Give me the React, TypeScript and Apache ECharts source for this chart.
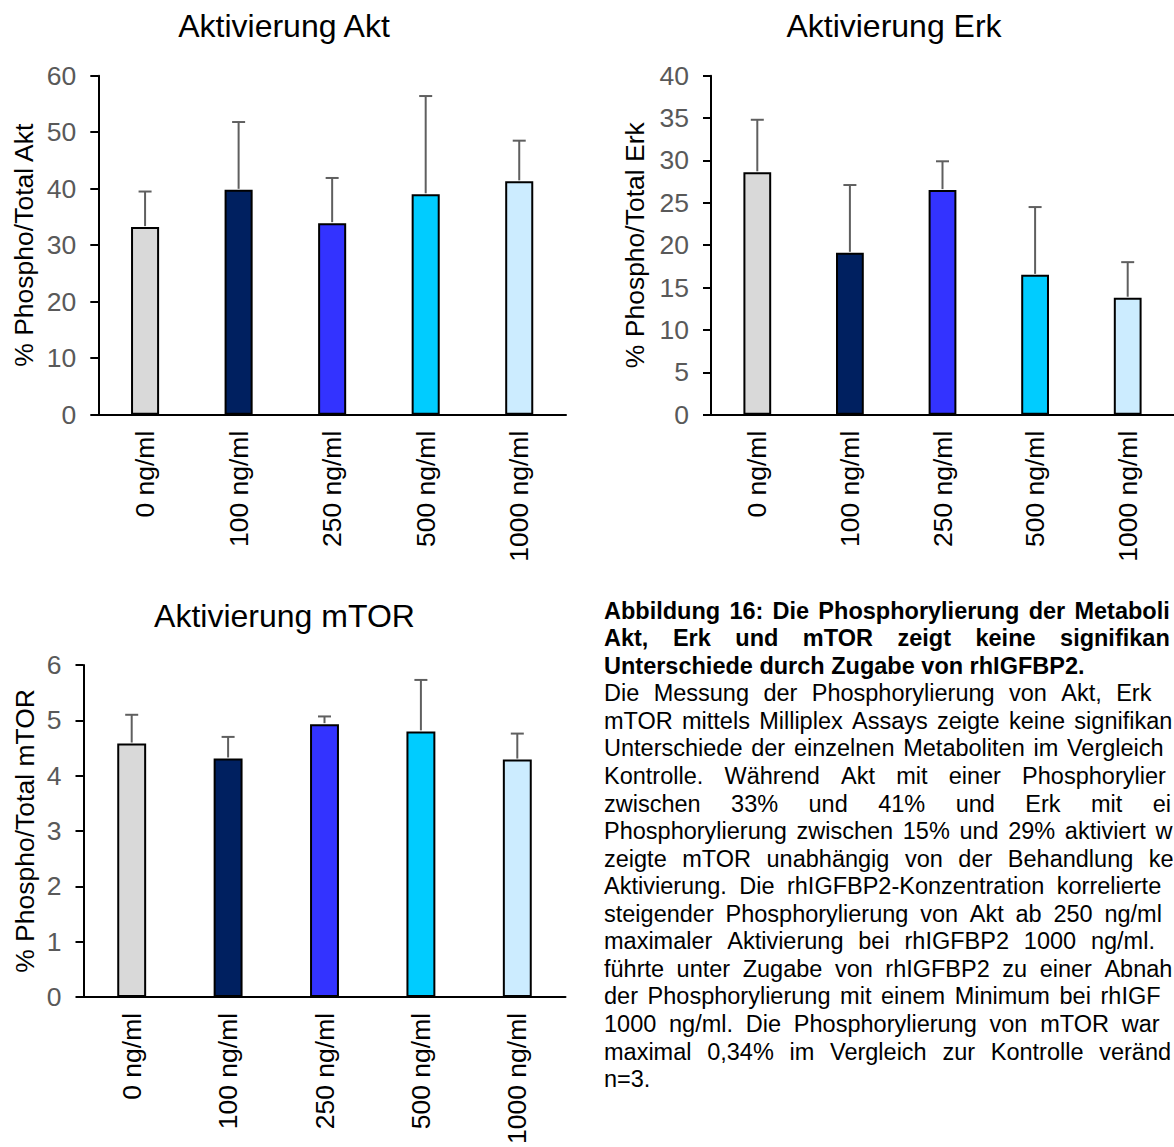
import React, { useEffect, useRef } from 'react';
import * as echarts from 'echarts';

const categories = ['0 ng/ml', '100 ng/ml', '250 ng/ml', '500 ng/ml', '1000 ng/ml'];
const barColors = ['#D9D9D9', '#002060', '#3333FF', '#00CCFF', '#CCECFF'];

const aktMean = [33.2, 39.8, 33.9, 39.0, 41.3];
const aktSd = [6.3, 12.0, 8.0, 17.4, 7.2];
const erkMean = [28.6, 19.1, 26.5, 16.5, 13.8];
const erkSd = [6.2, 8.0, 3.4, 8.0, 4.2];
const mtorMean = [4.58, 4.31, 4.93, 4.8, 4.29];
const mtorSd = [0.52, 0.39, 0.14, 0.93, 0.47];

const titles = ['Aktivierung Akt', 'Aktivierung Erk', 'Aktivierung mTOR'];
const yNames = ['% Phospho/Total Akt', '% Phospho/Total Erk', '% Phospho/Total mTOR'];
const yMax = [60, 40, 6];
const yStep = [10, 5, 1];

// Caption lines as set in the (wider) document column; the page cuts them at its right edge,
// so only the characters that fit inside the page are drawn.
const captionLines = [
  'Abbildung 16: Die Phosphorylierung der Metaboliten',
  'Akt, Erk und mTOR zeigt keine signifikanten',
  'Unterschiede durch Zugabe von rhIGFBP2.',
  'Die Messung der Phosphorylierung von Akt, Erk und',
  'mTOR mittels Milliplex Assays zeigte keine signifikanten',
  'Unterschiede der einzelnen Metaboliten im Vergleich zur',
  'Kontrolle. Während Akt mit einer Phosphorylierung',
  'zwischen 33% und 41% und Erk mit einer',
  'Phosphorylierung zwischen 15% und 29% aktiviert wird,',
  'zeigte mTOR unabhängig von der Behandlung keine',
  'Aktivierung. Die rhIGFBP2-Konzentration korrelierte mit',
  'steigender Phosphorylierung von Akt ab 250 ng/ml mit',
  'maximaler Aktivierung bei rhIGFBP2 1000 ng/ml. Erk',
  'führte unter Zugabe von rhIGFBP2 zu einer Abnahme',
  'der Phosphorylierung mit einem Minimum bei rhIGFBP2',
  '1000 ng/ml. Die Phosphorylierung von mTOR war um',
  'maximal 0,34% im Vergleich zur Kontrolle verändert.',
  'n=3.',
];
const captionBoldLines = 3;
const captionParagraphEnds = [2, 17];

const FONT = '"Liberation Sans", Arial, Helvetica, sans-serif';

export default function App() {
  const ref = useRef<HTMLDivElement>(null);

  useEffect(() => {
    if (!ref.current) return;
    const chart = echarts.init(ref.current, null, { renderer: 'svg' });

    const canvas = document.createElement('canvas');
    const ctx = canvas.getContext('2d')!;
    const measure = (t: string, font: string) => {
      ctx.font = font;
      return ctx.measureText(t).width;
    };

    const pageRight = 1174;
    const paraSize = 23.5;
    const paraX0 = 604;
    const paraX1 = 1205;
    const paraY0 = 610.7;
    const paraLH = 27.55;
    const graphics: any[] = [];

    const textEl = (text: string, x: number, y: number, font: string, align = 'left') => ({
      type: 'text',
      x,
      y,
      style: {
        text, font, fill: '#000',
        align, verticalAlign: 'middle',
        textAlign: align, textVerticalAlign: 'middle',
      },
    });

    captionLines.forEach((line, i) => {
      const bold = i < captionBoldLines;
      const font = `${bold ? 'bold ' : ''}${paraSize}px ${FONT}`;
      const y = paraY0 + i * paraLH;
      const words = line.split(' ');
      const widths = words.map((w) => measure(w, font));
      const total = widths.reduce((a, b) => a + b, 0);
      const justify = !captionParagraphEnds.includes(i) && words.length > 1;
      const gap = justify
        ? (paraX1 - paraX0 - total) / (words.length - 1)
        : measure(' ', font);
      let x = paraX0;
      words.forEach((w, k) => {
        if (x < pageRight) {
          // keep only the characters that fit entirely inside the page
          let visible = '';
          for (let c = 1; c <= w.length; c++) {
            if (x + measure(w.slice(0, c), font) <= pageRight + 0.5) visible = w.slice(0, c);
            else break;
          }
          if (visible) graphics.push(textEl(visible, x, y, font));
        }
        x += widths[k] + gap;
      });
    });

    const titlePos = [
      [284, 26],
      [894, 26],
      [284.5, 616],
    ];
    titles.forEach((t, i) => {
      graphics.push(textEl(t, titlePos[i][0], titlePos[i][1], `32px ${FONT}`, 'center'));
    });

    const grids = [
      { left: 98.3, top: 75.7, width: 467.7, height: 339 },
      { left: 711, top: 75.7, width: 468, height: 339 },
      { left: 83.5, top: 665, width: 482, height: 337 },
    ];
    const nameGaps = [61, 62.5, 44.6];
    const means = [aktMean, erkMean, mtorMean];
    const sds = [aktSd, erkSd, mtorSd];

    const axisFont = 26.5;

    const xAxes = grids.map((_, i) => ({
      type: 'category',
      gridIndex: i,
      data: categories,
      axisLine: { show: true, lineStyle: { color: '#000', width: 2 } },
      axisTick: { show: false },
      axisLabel: {
        interval: 0,
        rotate: 90,
        margin: 16,
        color: '#000',
        fontSize: axisFont,
        fontFamily: FONT,
      },
      splitLine: { show: false },
    }));

    const yAxes = grids.map((_, i) => ({
      type: 'value',
      gridIndex: i,
      min: 0,
      max: yMax[i],
      interval: yStep[i],
      name: yNames[i],
      nameLocation: 'middle',
      nameRotate: 90,
      nameGap: nameGaps[i],
      nameTextStyle: { color: '#000', fontSize: axisFont, fontFamily: FONT },
      axisLine: { show: true, lineStyle: { color: '#000', width: 2 } },
      axisTick: { show: true, inside: false, length: 8, lineStyle: { color: '#000', width: 2 } },
      axisLabel: { margin: 22, color: '#595959', fontSize: axisFont, fontFamily: FONT },
      splitLine: { show: false },
    }));

    const series: any[] = [];
    grids.forEach((_, i) => {
      series.push({
        type: 'bar',
        xAxisIndex: i,
        yAxisIndex: i,
        barWidth: '30%',
        data: means[i].map((v, k) => ({
          value: v,
          itemStyle: { color: barColors[k], borderColor: '#000', borderWidth: 2 },
        })),
      });
      series.push({
        type: 'custom',
        xAxisIndex: i,
        yAxisIndex: i,
        z: 5,
        encode: { x: 0, y: 1 },
        data: means[i].map((v, k) => [k, v, sds[i][k]]),
        renderItem: (params: any, api: any) => {
          const xi = api.value(0);
          const m = api.value(1);
          const sd = api.value(2);
          const base = api.coord([xi, m]);
          const top = api.coord([xi, m + sd]);
          const hw = 6.5;
          const st = { stroke: '#5F5F5F', lineWidth: 2 };
          return {
            type: 'group',
            children: [
              { type: 'line', shape: { x1: base[0], y1: base[1] - 1, x2: top[0], y2: top[1] }, style: st },
              { type: 'line', shape: { x1: top[0] - hw, y1: top[1], x2: top[0] + hw, y2: top[1] }, style: st },
            ],
          };
        },
      });
    });

    chart.setOption({
      animation: false,
      backgroundColor: '#fff',
      textStyle: { fontFamily: FONT },
      grid: grids,
      xAxis: xAxes,
      yAxis: yAxes,
      series,
      graphic: graphics,
    });

    return () => chart.dispose();
  }, []);

  return (
    <div
      ref={ref}
      style={{
        position: 'fixed',
        left: 0,
        top: 0,
        width: 1174,
        height: 1147,
        overflow: 'hidden',
        background: '#fff',
      }}
    />
  );
}
